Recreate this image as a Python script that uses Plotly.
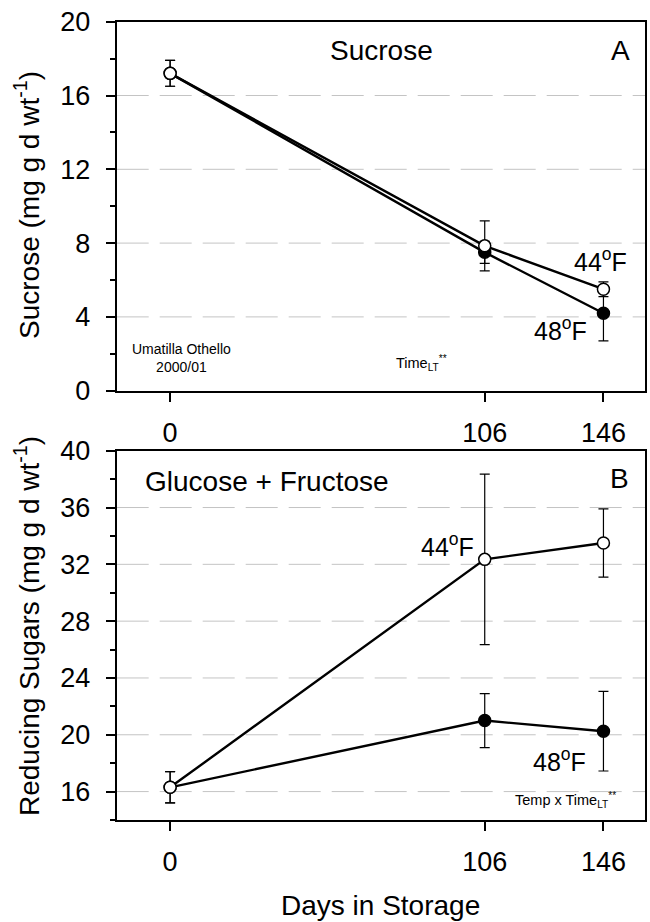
import plotly.graph_objects as go

days = [0, 106, 146]
x_ticks = [0, 106, 146]

suc_44 = [17.2, 7.85, 5.5]
suc_44_err = [0.7, 1.35, 0.4]
suc_48 = [17.2, 7.5, 4.2]
suc_48_err = [0.7, 0.6, 1.5]

red_44 = [16.3, 32.35, 33.5]
red_44_err = [1.1, 6.0, 2.4]
red_48 = [16.3, 21.0, 20.25]
red_48_err = [1.1, 1.9, 2.8]

grid_top = [4, 8, 12, 16]
grid_bottom = [16, 20, 24, 28, 32, 36]

FONT = "Liberation Sans, Arial, sans-serif"
W, H = 650, 922

fig = go.Figure()


def add_series(y, err, filled, xa, ya):
    fig.add_trace(go.Scatter(
        x=days, y=y, mode="lines+markers", xaxis=xa, yaxis=ya,
        line=dict(color="black", width=2.4),
        marker=dict(size=12, color="black" if filled else "white",
                    line=dict(color="black", width=1.5)),
        error_y=dict(type="data", array=err, visible=True, color="black",
                     thickness=1.2, width=5),
        showlegend=False, hoverinfo="skip"))


add_series(suc_48, suc_48_err, True, "x", "y")
add_series(suc_44, suc_44_err, False, "x", "y")
add_series(red_48, red_48_err, True, "x2", "y2")
add_series(red_44, red_44_err, False, "x2", "y2")

xdom = [116.7 / W, 645 / W]
ydom1 = [1 - 390.7 / H, 1 - 21.7 / H]
ydom2 = [1 - 820 / H, 1 - 450.7 / H]

xcommon = dict(domain=xdom, range=[-18, 160], tickvals=x_ticks,
               ticktext=[str(v) for v in x_ticks],
               showline=True, linecolor="black", linewidth=2, mirror=True,
               ticks="outside", ticklen=9, tickwidth=2, tickcolor="black",
               showgrid=False, zeroline=False,
               tickfont=dict(family=FONT, size=27, color="black"),
               ticklabelstandoff=8, automargin=False)

ycommon = dict(showline=True, linecolor="black", linewidth=2, mirror=True,
               ticks="outside", ticklen=9, tickwidth=2, tickcolor="black",
               showgrid=False, zeroline=False,
               tickfont=dict(family=FONT, size=27, color="black"),
               ticklabelstandoff=10, automargin=False)

fig.update_layout(
    template="none",
    width=W, height=H, margin=dict(l=0, r=0, t=0, b=0),
    paper_bgcolor="white", plot_bgcolor="white",
    font=dict(family=FONT, color="black"),
    xaxis=dict(anchor="y", **xcommon),
    xaxis2=dict(anchor="y2", **xcommon),
    yaxis=dict(anchor="x", domain=ydom1, range=[0, 20], tick0=0, dtick=4,
               minor=dict(dtick=2, tick0=0, ticks="outside", ticklen=5,
                          tickwidth=2, tickcolor="black"),
               **ycommon),
    yaxis2=dict(anchor="x2", domain=ydom2, range=[14, 40], tick0=16, dtick=4,
                minor=dict(dtick=2, tick0=14, ticks="outside", ticklen=5,
                           tickwidth=2, tickcolor="black"),
                **ycommon),
)

# dashed gray grid lines
for g in grid_top:
    fig.add_shape(type="line", xref="x domain", yref="y", x0=0, x1=1, y0=g, y1=g,
                  line=dict(color="#c4c4c4", width=1, dash="32px,11px"), layer="below")
for g in grid_bottom:
    fig.add_shape(type="line", xref="x2 domain", yref="y2", x0=0, x1=1, y0=g, y1=g,
                  line=dict(color="#c4c4c4", width=1, dash="32px,11px"), layer="below")


def ann(text, x, y, xref, yref, size, xanchor="center", yanchor="middle", angle=0):
    fig.add_annotation(text=text, x=x, y=y, xref=xref, yref=yref,
                       xanchor=xanchor, yanchor=yanchor, showarrow=False,
                       textangle=angle,
                       font=dict(family=FONT, size=size, color="black"))


# top panel
ann("Sucrose", 71.1, 18.46, "x", "y", 28)
ann("A", 151.7, 18.46, "x", "y", 28)
ann("44<sup>o</sup>F", 154.6, 7.1, "x", "y", 25, xanchor="right")
ann("48<sup>o</sup>F", 141.1, 3.35, "x", "y", 25, xanchor="right")
ann("Umatilla Othello<br>2000/01", 3.7, 1.78, "x", "y", 14)
ann("Time<sub>LT</sub><sup>**</sup>", 75.5, 1.5, "x", "y", 14.5, xanchor="left")

# bottom panel
ann("Glucose + Fructose", -9.1, 37.8, "x2", "y2", 28, xanchor="left")
ann("B", 151.3, 38.06, "x2", "y2", 28)
ann("44<sup>o</sup>F", 103.0, 33.35, "x2", "y2", 25, xanchor="right")
ann("48<sup>o</sup>F", 140.7, 18.2, "x2", "y2", 25, xanchor="right")
ann("Temp x Time<sub>LT</sub><sup>**</sup>", 150.9, 15.42, "x2", "y2", 14.5, xanchor="right")

# axis titles
ann("Sucrose (mg g d wt<sup>-1</sup>)", 27 / W, 1 - 205 / H, "paper", "paper", 28, angle=-90)
ann("Reducing Sugars (mg g d wt<sup>-1</sup>)", 27 / W, 1 - 626 / H, "paper", "paper", 28, angle=-90)
ann("Days in Storage", 380.7 / W, 1 - 905 / H, "paper", "paper", 28)

fig.write_html("out.html")
